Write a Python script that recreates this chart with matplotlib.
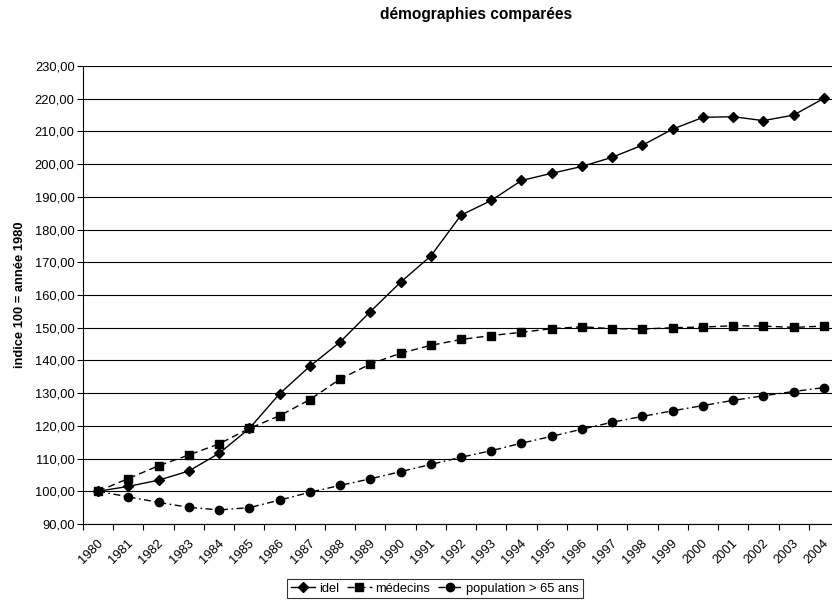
import matplotlib
matplotlib.use("Agg")
import matplotlib.pyplot as plt
from matplotlib.ticker import FixedLocator, FuncFormatter
from matplotlib.transforms import ScaledTranslation

plt.rcParams['font.family'] = ['Liberation Sans', 'DejaVu Sans']

years = [str(y) for y in range(1980, 2005)]

idel = [100.0, 101.5, 103.4, 106.2, 111.6, 119.2, 129.8, 138.2, 145.6, 154.9,
        163.9, 171.9, 184.4, 188.9, 195.0, 197.2, 199.3, 202.1, 205.8, 210.7,
        214.3, 214.5, 213.3, 215.0, 220.1]
medecins = [100.0, 103.9, 107.8, 111.1, 114.5, 119.2, 123.1, 128.0, 134.3, 138.9,
            142.2, 144.6, 146.4, 147.6, 148.6, 149.7, 150.3, 149.7, 149.6, 150.0,
            150.2, 150.6, 150.5, 150.1, 150.5]
population = [100.0, 98.3, 96.6, 95.1, 94.3, 95.0, 97.3, 99.7, 101.8, 103.8,
              106.0, 108.2, 110.4, 112.4, 114.7, 116.8, 119.0, 121.1, 122.9, 124.6,
              126.2, 127.8, 129.2, 130.5, 131.7]

FS = 9.3

W, H = 832, 604
fig = plt.figure(figsize=(W / 100, H / 100), dpi=100)
fig.patch.set_facecolor('white')

left, right, top, bottom = 83, 839, 66, 524
ax = fig.add_axes([left / W, 1 - bottom / H, (right - left) / W, (bottom - top) / H])

x = list(range(len(years)))
ax.plot(x, idel, color='black', lw=1.0, ls='-', marker='D', ms=5, label='idel', zorder=3)
ax.plot(x, medecins, color='black', lw=1.0, ls=(0, (5, 3)), marker='s', ms=6,
        label='médecins', zorder=3)
ax.plot(x, population, color='black', lw=1.0, ls=(0, (5, 2.5, 1.2, 2.5)), marker='o',
        ms=6, label='population > 65 ans', zorder=3)

ax.set_xlim(-0.5, len(years) - 0.5)
ax.set_ylim(90, 230)

yt = list(range(90, 231, 10))
ax.yaxis.set_major_locator(FixedLocator(yt))
ax.yaxis.set_major_formatter(FuncFormatter(lambda v, p: f"{v:.2f}".replace('.', ',')))
ax.grid(axis='y', color='black', lw=0.8, zorder=1)
ax.set_axisbelow(True)

# category boundaries carry the tick marks, labels sit at category centres
ax.xaxis.set_major_locator(FixedLocator([i - 0.5 for i in range(len(years) + 1)]))
ax.xaxis.set_major_formatter(FuncFormatter(lambda v, p: ''))
ax.xaxis.set_minor_locator(FixedLocator(x))
ax.set_xticklabels(years, minor=True)
ax.tick_params(axis='x', which='minor', length=0, pad=12.5, labelsize=FS)
ax.tick_params(axis='x', which='major', length=4, width=0.8, direction='out')
ax.tick_params(axis='y', length=4, width=0.8, direction='out', labelsize=FS, pad=2)
shift = ScaledTranslation(0.03, 0, fig.dpi_scale_trans)
for lab in ax.get_xticklabels(minor=True):
    lab.set_rotation(45)
    lab.set_ha('right')
    lab.set_va('center')
    lab.set_rotation_mode('anchor')
    lab.set_transform(lab.get_transform() + shift)

for s in ['top', 'right']:
    ax.spines[s].set_visible(False)
for s in ['left', 'bottom']:
    ax.spines[s].set_linewidth(0.8)
    ax.spines[s].set_color('black')

ax.set_ylabel('indice 100 = année 1980', fontsize=FS, fontweight='bold', labelpad=6)

fig.text(476 / W, 1 - 14 / H, 'démographies comparées', ha='center', va='center',
         fontsize=11.2, fontweight='bold')

leg = fig.legend(loc='center', bbox_to_anchor=(435 / W, 1 - 588.5 / H), ncol=3,
                 fontsize=FS, frameon=True, fancybox=False, handlelength=1.9,
                 handletextpad=0.3, columnspacing=0.6, borderpad=0.3,
                 borderaxespad=0)
leg.get_frame().set_edgecolor('black')
leg.get_frame().set_linewidth(0.8)

fig.savefig('out.png', dpi=100, facecolor='white')
